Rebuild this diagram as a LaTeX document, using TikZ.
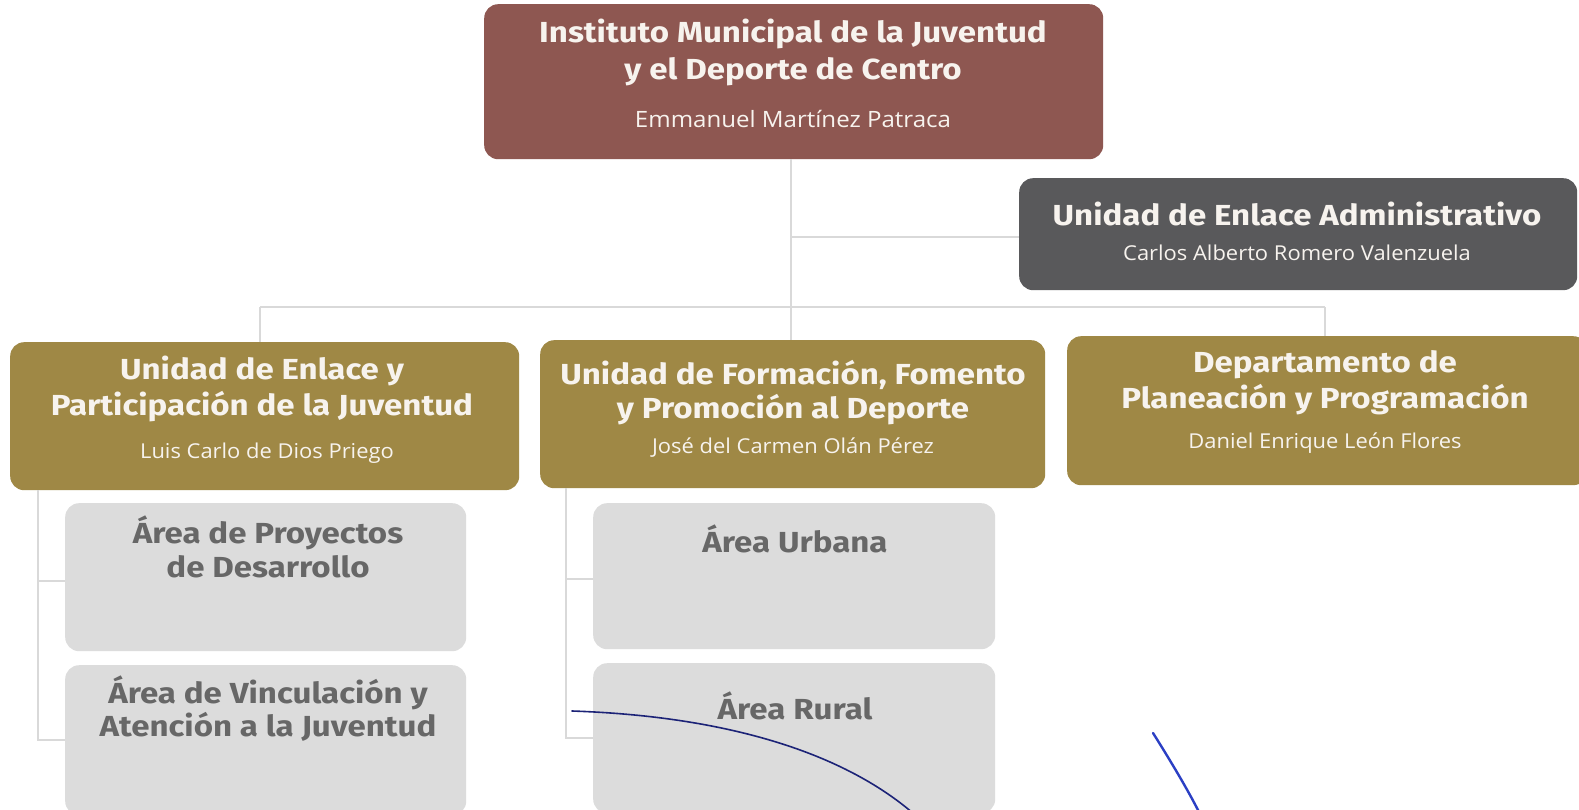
\documentclass[tikz,border=0pt]{standalone}
\usepackage{fontspec}
\setmainfont{Fira Sans}
\newfontfamily\headf[FakeStretch=1.14]{Fira Sans}
\newfontfamily\namef[FakeStretch=1.07]{Open Sans}
\definecolor{maroon}{HTML}{8E5751}
\definecolor{admgray}{HTML}{59595B}
\definecolor{gold}{HTML}{9F8845}
\definecolor{lightbox}{HTML}{DCDCDC}
\definecolor{linec}{HTML}{D9D9D9}
\definecolor{txtw}{HTML}{F7F3EE}
\definecolor{txtg}{HTML}{676767}
\definecolor{pen1}{HTML}{1C2377}
\definecolor{pen2}{HTML}{2B3FC4}
\tikzset{
  box/.style={rounded corners=14pt, inner sep=0pt, anchor=north west},
  headt/.style={font=\headf\fontsize{29}{36}\selectfont\bfseries, text=txtw, align=center, inner sep=0pt},
  namet/.style={font=\namef\fontsize{20.5}{25}\selectfont, text=txtw, inner sep=0pt},
  bignamet/.style={font=\namef\fontsize{22.5}{27}\selectfont, text=txtw, inner sep=0pt},
  grayt/.style={font=\headf\fontsize{29}{36}\selectfont\bfseries, text=txtg, align=center, inner sep=0pt},
  conn/.style={draw=linec, line width=2pt}
}
\begin{document}
\begin{tikzpicture}[x=1pt,y=-1pt]
\useasboundingbox[fill=white] (0,0) rectangle (1579,810);
\coordinate (hubtop) at (791,307);
\coordinate (admbr) at (791,237);
\coordinate (hl) at (260,307);
\coordinate (hr) at (1325,307);
% boxes
\node[box, fill=maroon, minimum width=619pt, minimum height=155pt] (top) at (484,4) {};
\node[box, fill=admgray, minimum width=558pt, minimum height=112pt] (adm) at (1019,178) {};
\node[box, fill=gold, minimum width=509pt, minimum height=148pt] (L) at (10,342) {};
\node[box, fill=gold, minimum width=505pt, minimum height=148pt] (M) at (540,340) {};
\node[box, fill=gold, minimum width=520pt, minimum height=149pt] (R) at (1067,336) {};
\node[box, fill=lightbox, minimum width=401pt, minimum height=148pt] (g1) at (65,503) {};
\node[box, fill=lightbox, minimum width=401pt, minimum height=150pt] (g2) at (65,665) {};
\node[box, fill=lightbox, minimum width=402pt, minimum height=146pt] (g3) at (593,503) {};
\node[box, fill=lightbox, minimum width=402pt, minimum height=150pt] (g4) at (593,663) {};
% connectors
\draw[conn] (top.south -| hubtop) -- (hubtop);
\draw[conn] (admbr) -- (admbr -| adm.west);
\draw[conn] (hl) -- (hr);
\draw[conn] (hl) -- (hl |- L.north);
\draw[conn] (hubtop) -- (hubtop |- M.north);
\draw[conn] (hr) -- (hr |- R.north);
\coordinate (lv) at (38,740);
\draw[conn] (L.south -| lv) -- (lv) -- (lv -| g2.west);
\draw[conn] (38,581) -- (38,581 -| g1.west);
\coordinate (mv) at (566,738);
\draw[conn] (M.south -| mv) -- (mv) -- (mv -| g4.west);
\draw[conn] (566,579) -- (566,579 -| g3.west);
% texts
\node[headt] (t1) at (793,34) {Instituto Municipal de la Juventud};
\node[headt] (t2) at (793,72) {y el Deporte de Centro};
\node[bignamet] (t3) at (793,119) {Emmanuel Martínez Patraca};
\node[headt] (a1) at (1297,213.5) {Unidad de Enlace Administrativo};
\node[namet] (a2) at (1297,253) {Carlos Alberto Romero Valenzuela};
\node[headt] (l1) at (262,370.5) {Unidad de Enlace y};
\node[headt] (l2) at (262,407) {Participación de la Juventud};
\node[namet] (l3) at (267,453) {Luis Carlo de Dios Priego};
\node[headt] (m1) at (793,374.5) {Unidad de Formación, Fomento};
\node[headt] (m2) at (793,410) {y Promoción al Deporte};
\node[namet] (m3) at (793,448) {José del Carmen Olán Pérez};
\node[headt] (r1) at (1325,364.5) {Departamento de};
\node[headt] (r2) at (1325,400) {Planeación y Programación};
\node[namet] (r3) at (1325,443) {Daniel Enrique León Flores};
\node[grayt] (gt1) at (268,533) {Área de Proyectos};
\node[grayt] (gt1b) at (268,567) {de Desarrollo};
\node[grayt] (gt2) at (268,693) {Área de Vinculación y};
\node[grayt] (gt2b) at (268,727) {Atención a la Juventud};
\node[grayt] (gt3) at (795,539) {Área Urbana};
\node[grayt] (gt4) at (795,706) {Área Rural};
% pen strokes
\draw[pen1, line width=1.6pt, line cap=round] (572,711) .. controls (720,716) and (840,750) .. (914,814);
\draw[pen2, line width=2.4pt, line cap=round] (1153,733) .. controls (1170,760) and (1188,790) .. (1200,814);
\end{tikzpicture}
\end{document}
